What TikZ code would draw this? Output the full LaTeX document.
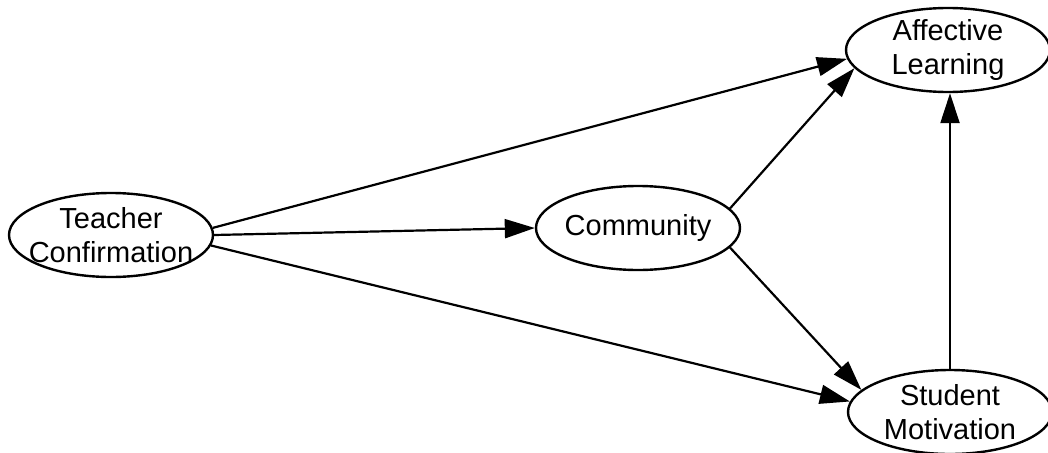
\documentclass[tikz,border=0pt]{standalone}
\usepackage{fontspec}
\setmainfont{Liberation Sans}
\usetikzlibrary{shapes.geometric,arrows.meta}
\begin{document}
\begin{tikzpicture}[x=1pt,y=1pt,
  every node/.style={ellipse,draw,line width=2.4pt,inner xsep=-12pt,inner ysep=-6pt,
    minimum width=204pt,minimum height=84pt,align=center,
    font=\fontsize{29}{34}\selectfont},
  link/.style={line width=2.2pt,-{Triangle[length=30pt,width=19pt]}}]
  \useasboundingbox (0,0) rectangle (1048,-452);
  \node (t) at (111,-235) {Teacher\\Confirmation};
  \node (c) [right of=t,node distance=527pt,yshift=7pt] {Community};
  \node (a) [right of=c,node distance=310pt,yshift=178pt] {Affective\\Learning};
  \node (s) [below of=a,node distance=362pt,xshift=2pt] {Student\\Motivation};
  \draw[link] (t.4)--(a.185);
  \draw[link] (t.east)--(c.west);
  \draw[link] (t.-6)--(s.174);
  \draw[link] (c.12)--(a.191);
  \draw[link] (c.-12)--(s.166);
  \draw[link] (s.north)--(s.north |- a.south);
\end{tikzpicture}
\end{document}
